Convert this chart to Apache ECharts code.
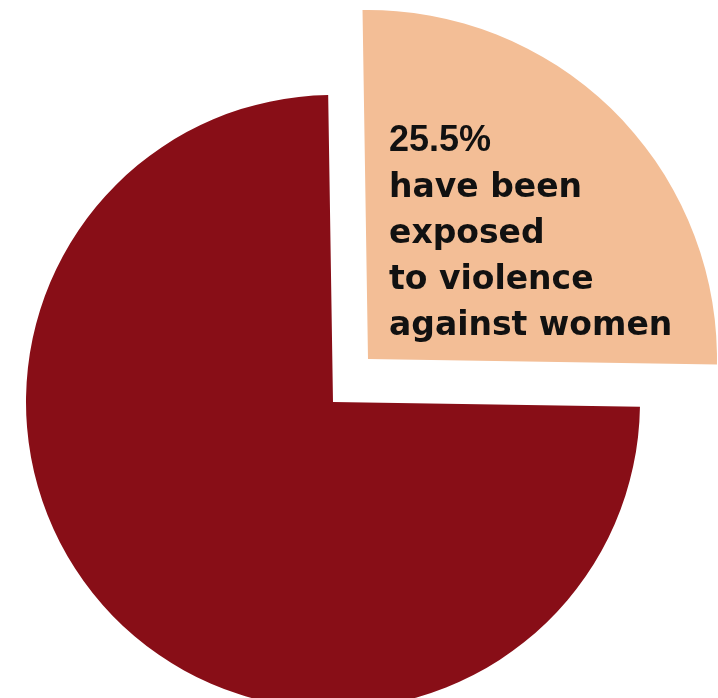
<!DOCTYPE html>
<html>
<head>
<meta charset="utf-8">
<script src="https://cdn.jsdelivr.net/npm/echarts@6/dist/echarts.min.js"></script>
<style>
html,body{margin:0;padding:0;background:#fff;}
#chart{width:718px;height:698px;}
</style>
</head>
<body>
<div id="chart"></div>
<script>
// Data
const categories = ['Exposed to violence against women', 'Not exposed'];
const values = [25.5, 74.5];
const labelLines = ['have been', 'exposed', 'to violence', 'against women'];

const DARK = '#880E17';
const PEACH = '#F3BE96';

const chart = echarts.init(document.getElementById('chart'));

function makeData(visibleIndex, color) {
  return categories.map((c, i) => ({
    name: c,
    value: values[i],
    itemStyle: { color: i === visibleIndex ? color : 'rgba(0,0,0,0)' },
    label: { show: i === 0 && visibleIndex === 0 }
  }));
}

chart.setOption({
  backgroundColor: '#ffffff',
  animation: false,
  series: [
    {
      type: 'pie',
      silent: true,
      center: [333, 402],
      radius: 307,
      startAngle: 90.9,
      clockwise: true,
      label: { show: false },
      labelLine: { show: false },
      emphasis: { disabled: true },
      data: makeData(1, DARK)
    },
    {
      type: 'pie',
      silent: true,
      center: [368, 359],
      radius: 349,
      startAngle: 90.9,
      clockwise: true,
      labelLine: { show: false },
      emphasis: { disabled: true },
      label: {
        position: 'inside',
        formatter: p => '{p|' + p.value + '%}\n' + labelLines.map(l => '{t|' + l + '}').join('\n'),
        rich: {
          p: { fontFamily: 'Liberation Sans', fontWeight: 'bold', fontSize: 36, color: '#111', lineHeight: 48 },
          t: { fontFamily: 'DejaVu Sans', fontWeight: 'bold', fontSize: 33, color: '#111', lineHeight: 46 }
        }
      },
      labelLayout: p => p.dataIndex === 0 ? { x: 389, y: 117, align: 'left', verticalAlign: 'top' } : {},
      data: makeData(0, PEACH)
    }
  ]
});
</script>
</body>
</html>
